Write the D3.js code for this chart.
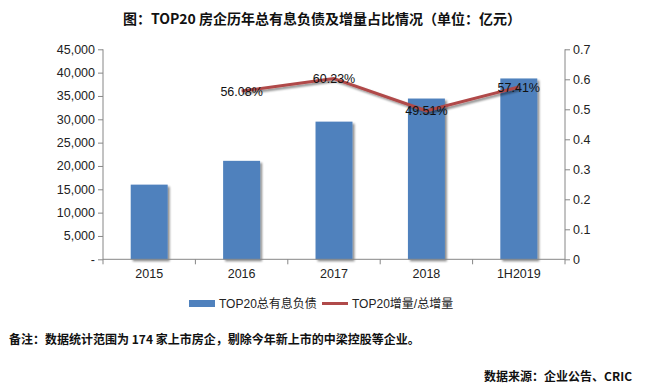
<!DOCTYPE html>
<html><head><meta charset="utf-8">
<script src="https://cdn.jsdelivr.net/npm/d3@7"></script>
<style>
html,body{margin:0;padding:0;background:#fff;}
svg{display:block;}
</style></head>
<body>
<script>
const categories = ["2015","2016","2017","2018","1H2019"];
const debtValues = [16000, 21100, 29500, 34450, 38750];
const ratioCats = ["2016","2017","2018","1H2019"];
const ratioValues = [0.5608, 0.6023, 0.4951, 0.5741];
const ratioLabels = ["56.08%","60.23%","49.51%","57.41%"];
const leftTicks = [0,5000,10000,15000,20000,25000,30000,35000,40000,45000];
const rightTicks = [0,0.1,0.2,0.3,0.4,0.5,0.6,0.7];
const titleText = "图：TOP20 房企历年总有息负债及增量占比情况（单位：亿元）";
const noteText = "备注：数据统计范围为 174 家上市房企，剔除今年新上市的中梁控股等企业。";
const sourceText = "数据来源：企业公告、CRIC";
const legendNames = ["TOP20总有息负债","TOP20增量/总增量"];

const W=652,H=390;
const font = "'Liberation Sans','Noto Sans CJK SC',sans-serif";
const cjk = "'Noto Sans CJK SC','Liberation Sans',sans-serif";
const svg = d3.select("body").append("svg").attr("width",W).attr("height",H);

const defs = svg.append("defs");
const f = defs.append("filter").attr("id","sh").attr("x","-20%").attr("y","-20%").attr("width","150%").attr("height","150%");
f.append("feGaussianBlur").attr("in","SourceAlpha").attr("stdDeviation",1.2).attr("result","b");
f.append("feOffset").attr("in","b").attr("dx",2).attr("dy",1.5).attr("result","o");
f.append("feComponentTransfer").attr("in","o").attr("result","o2").append("feFuncA").attr("type","linear").attr("slope",0.45);
const m = f.append("feMerge"); m.append("feMergeNode").attr("in","o2"); m.append("feMergeNode").attr("in","SourceGraphic");

const x0=103,x1=565,yTop=49.3,yBot=259.3;
const xb = d3.scaleBand().domain(categories).range([x0,x1]);
const yL = d3.scaleLinear().domain([0,45000]).range([yBot,yTop]);
const yR = d3.scaleLinear().domain([0,0.7]).range([yBot,yTop]);

// title
svg.append("text").attr("x",322).attr("y",24).attr("text-anchor","middle")
  .attr("font-family",cjk).attr("font-weight","bold").attr("font-size",14).attr("fill","#111").text(titleText);

// bars
svg.append("g").selectAll("rect").data(debtValues).join("rect")
  .attr("x",(d,i)=>xb(categories[i])+xb.bandwidth()*0.3)
  .attr("width",xb.bandwidth()*0.4)
  .attr("y",d=>yL(d)).attr("height",d=>yBot-yL(d))
  .attr("fill","#4f81bd").attr("filter","url(#sh)");

// axes
const axisColor="#868686";
const gL = svg.append("g").attr("transform",`translate(${x0},0)`)
  .call(d3.axisLeft(yL).tickValues(leftTicks).tickSize(5).tickPadding(3)
    .tickFormat(d=>d===0?"-":d3.format(",")(d)));
const gR = svg.append("g").attr("transform",`translate(${x1},0)`)
  .call(d3.axisRight(yR).tickValues(rightTicks).tickSize(5).tickPadding(3)
    .tickFormat(d=>d===0?"0":d3.format("")(+d.toFixed(1))));
const gX = svg.append("g").attr("transform",`translate(0,${yBot})`)
  .call(d3.axisBottom(xb).tickSize(0).tickPadding(10));
svg.append("g").selectAll("line").data(categories.concat(["end"])).join("line")
  .attr("x1",(d,i)=>x0+i*xb.bandwidth()).attr("x2",(d,i)=>x0+i*xb.bandwidth())
  .attr("y1",yBot).attr("y2",yBot+5).attr("stroke",axisColor);
[gL,gR,gX].forEach(g=>{
  g.selectAll(".domain").attr("stroke",axisColor);
  g.selectAll(".tick line").attr("stroke",axisColor);
  g.selectAll("text").attr("font-family",font).attr("font-size",12.5).attr("fill","#222");
});
gL.selectAll(".domain").attr("d",`M0,${yTop}V${yBot}`);
gR.selectAll(".domain").attr("d",`M0,${yTop}V${yBot}`);
gX.selectAll(".domain").attr("d",`M${x0},0H${x1}`);

// line
const line = d3.line().x((d,i)=>xb(ratioCats[i])+xb.bandwidth()/2).y(d=>yR(d));
svg.append("path").datum(ratioValues).attr("d",line)
  .attr("fill","none").attr("stroke","#b04a4a").attr("stroke-width",3)
  .attr("stroke-linejoin","round").attr("filter","url(#sh)");
svg.append("g").selectAll("text").data(ratioValues).join("text")
  .attr("x",(d,i)=>xb(ratioCats[i])+xb.bandwidth()/2)
  .attr("y",d=>yR(d)+4.5).attr("text-anchor","middle")
  .attr("font-family",font).attr("font-size",12.5).attr("fill","#111")
  .text((d,i)=>ratioLabels[i]);

// legend
const lg = svg.append("g");
lg.append("rect").attr("x",189).attr("y",300).attr("width",26).attr("height",7).attr("fill","#4f81bd");
lg.append("text").attr("x",219).attr("y",308).attr("font-family",font).attr("font-size",12).attr("fill","#222").text(legendNames[0]);
lg.append("line").attr("x1",322).attr("x2",348).attr("y1",303.5).attr("y2",303.5).attr("stroke","#b04a4a").attr("stroke-width",3);
lg.append("text").attr("x",352).attr("y",308).attr("font-family",font).attr("font-size",12).attr("fill","#222").text(legendNames[1]);

// notes
svg.append("text").attr("x",9).attr("y",344).attr("font-family",cjk).attr("font-weight","bold").attr("font-size",12).attr("fill","#111").text(noteText);
svg.append("text").attr("x",632).attr("y",381).attr("text-anchor","end").attr("font-family",cjk).attr("font-weight","bold").attr("font-size",12).attr("fill","#111").text(sourceText);
</script>
</body></html>
